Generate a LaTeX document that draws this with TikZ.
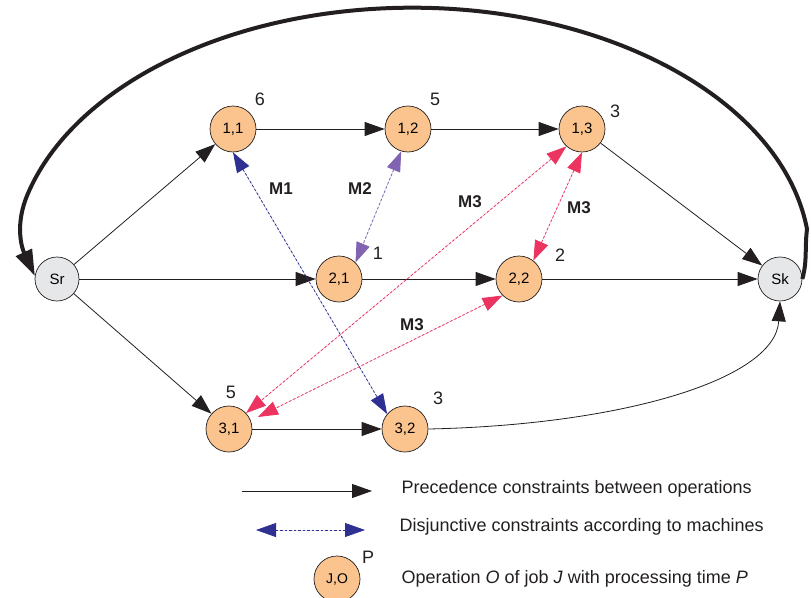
\documentclass[tikz,border=0pt]{standalone}
\usepackage{fontspec}
\setmainfont{Liberation Sans}
\usetikzlibrary{arrows.meta,calc}
\definecolor{opfill}{RGB}{251,196,142}
\definecolor{srfill}{RGB}{230,231,233}
\definecolor{mnavy}{RGB}{46,49,146}
\definecolor{mpurple}{RGB}{128,100,178}
\definecolor{mpink}{RGB}{236,52,96}
\definecolor{lin}{RGB}{35,31,32}
\tikzset{
  op/.style={circle,draw=lin,line width=0.7pt,fill=opfill,minimum size=46pt,inner sep=0pt,font=\fontsize{15}{15}\selectfont},
  term/.style={circle,draw=lin,line width=0.7pt,fill=srfill,minimum size=44pt,inner sep=0pt,font=\fontsize{15}{15}\selectfont},
  ptime/.style={font=\fontsize{18}{18}\selectfont,text=lin},
  mlab/.style={font=\fontsize{17}{17}\selectfont\bfseries,text=lin},
  prec/.style={draw=lin,line width=0.8pt,-{Triangle[length=20pt,width=14pt]}},
  disj/.style={line width=0.8pt,dash pattern=on 2.5pt off 2pt,{Triangle[length=20pt,width=14pt]}-{Triangle[length=20pt,width=14pt]}},
  big/.style={draw=lin,line width=4pt,-{Triangle[length=26pt,width=17pt]}},
  legtext/.style={anchor=west,font=\fontsize{18}{18}\selectfont,text=lin}
}
\begin{document}
\begin{tikzpicture}[x=1pt,y=1pt]
\useasboundingbox (0,0) rectangle (811,-597);
% nodes
\node[term] (Sr) at (57,-279) {Sr};
\node[term] (Sk) at (780,-279) {Sk};
\node[op] (n11) at (233,-129) {1,1};
\node[op] (n12) at (408,-129) {1,2};
\node[op] (n13) at (582,-129) {1,3};
\node[op] (n21) at (339,-279) {2,1};
\node[op] (n22) at (519,-279) {2,2};
\node[op] (n31) at (229,-429) {3,1};
\node[op] (n32) at (405,-429) {3,2};
% processing times
\node[ptime] (p11) at (260,-99) {6};
\node[ptime] (p12) at (435,-99) {5};
\node[ptime] (p13) at (615,-111) {3};
\node[ptime] (p21) at (378,-253) {1};
\node[ptime] (p22) at (560,-255) {2};
\node[ptime] (p31) at (231,-392) {5};
\node[ptime] (p32) at (438,-398) {3};
% machine labels
\node[mlab] (m1) at (281,-189) {M1};
\node[mlab] (m2) at (360,-189) {M2};
\node[mlab] (m3a) at (470,-202) {M3};
\node[mlab] (m3b) at (579,-208) {M3};
\node[mlab] (m3c) at (412,-325) {M3};
% precedence
\draw[prec] (Sr) -- (n11);
\draw[prec] (Sr) -- (n21);
\draw[prec] (Sr) -- (n31);
\draw[prec] (n11) -- (n12);
\draw[prec] (n12) -- (n13);
\draw[prec] (n13) -- (Sk);
\draw[prec] (n21) -- (n22);
\draw[prec] (n22) -- (Sk);
\draw[prec] (n31) -- (n32);
\draw[prec] (n32.east) .. controls (620,-425) and (775,-380) .. (Sk.south);
% big return arc
\draw[big] (Sk.east) to[out=75,in=-97] (807,-229)
  arc[start angle=7,end angle=165,x radius=398,y radius=252]
  to[out=-113,in=115] (Sr.172);
% disjunctive
\draw[disj,draw=mnavy,fill=mnavy] (n11.south) -- (n32.140);
\draw[disj,draw=mpurple,fill=mpurple] (n12.-107) -- (n21.45);
\draw[disj,draw=mpink,fill=mpink] (n13.-132) -- (n31.43);
\draw[disj,draw=mpink,fill=mpink] (n22.-135) -- ($(n31.center)+(29,12)$);
\draw[disj,draw=mpink,fill=mpink] (n13.-90) -- (n22.52);
% legend
\coordinate (la1) at (242,-491);
\coordinate (la2) at (372,-491);
\draw[prec] (la1) -- (la2);
\node[legtext] (lt1) at (398,-489) {Precedence constraints between operations};
\coordinate (lb1) at (256,-530);
\coordinate (lb2) at (365,-530);
\draw[disj,draw=mnavy,fill=mnavy] (lb1) -- (lb2);
\node[legtext] (lt2) at (396,-527) {Disjunctive constraints according to machines};
\node[op,font=\fontsize{14}{14}\selectfont] (lop) at (337,-579) {J,O};
\node[ptime] (lp) at (368,-557) {P};
\node[legtext] (lt3) at (398,-579) {Operation \textit{O} of job \textit{J} with processing time \textit{P}};
\end{tikzpicture}
\end{document}
